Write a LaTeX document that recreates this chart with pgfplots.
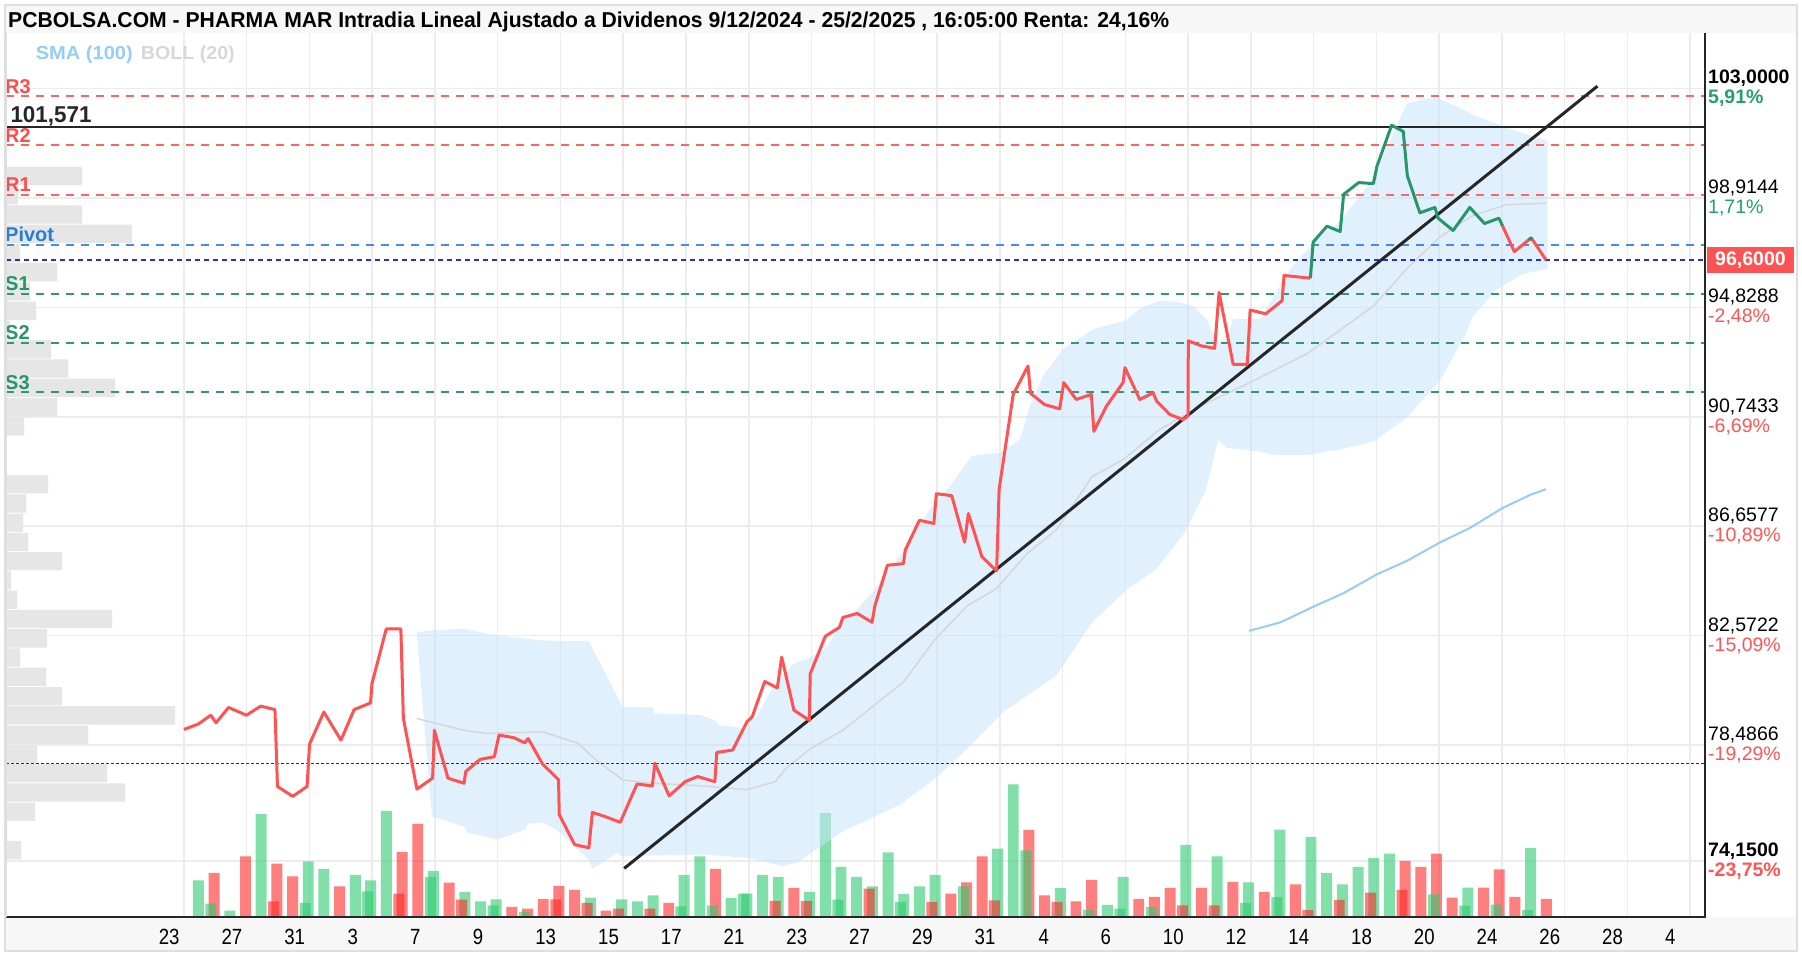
\documentclass[border=0pt]{standalone}
\usepackage{pgfplots}
\pgfplotsset{compat=1.18}
\usepackage{graphicx}
\usepackage{fontspec}
\setmainfont{Liberation Sans}
\definecolor{gridc}{RGB}{236,236,236}
\definecolor{pricered}{RGB}{255,82,82}
\definecolor{pricegreen}{RGB}{40,150,108}
\definecolor{volgreen}{RGB}{46,204,113}
\definecolor{volred}{RGB}{255,40,40}
\definecolor{bandfill}{RGB}{200,228,250}
\definecolor{midgray}{RGB}{215,215,215}
\definecolor{smablue}{RGB}{150,205,245}
\definecolor{rline}{RGB}{255,100,100}
\definecolor{sline}{RGB}{50,152,112}
\definecolor{pline}{RGB}{70,140,230}
\definecolor{curblue}{RGB}{40,40,240}
\definecolor{rlab}{RGB}{255,75,75}
\definecolor{slab}{RGB}{35,150,105}
\definecolor{plab}{RGB}{40,125,215}
\definecolor{pctgreen}{RGB}{35,160,110}
\definecolor{pctred}{RGB}{255,85,85}
\definecolor{profgray}{RGB}{230,230,230}
\definecolor{bandgray}{RGB}{247,247,247}
\definecolor{framegray}{RGB}{222,222,222}
\newcommand{\xl}[1]{\scalebox{0.845}[1]{#1}}
\begin{document}
\begin{tikzpicture}[x=1pt,y=1pt]
\useasboundingbox (0,0) rectangle (1802,957);
\fill[white] (0,0) rectangle (1802,957);
\fill[bandgray] (5,924) rectangle (1797,952);
\fill[bandgray] (5,6) rectangle (1797,40);
\draw[framegray, line width=1.5pt] (5,6) rectangle (1797,952);

% ---------- grid + tick labels ----------
\begin{axis}[
  at={(6pt,40pt)}, anchor=south west, scale only axis,
  width=1699pt, height=884pt,
  xmin=-5.673, xmax=48.478, ymin=72.066, ymax=105.075,
  axis line style={draw=none},
  xtick={-0.47,1.53,3.53,5.38,7.37,9.37,11.53,13.53,15.53,17.53,19.53,21.53,23.53,25.53,27.4,29.38,31.53,33.53,35.53,37.53,39.53,41.53,43.53,45.53,47.37},
  xticklabels={\xl{23},\xl{27},\xl{31},\xl{3},\xl{7},\xl{9},\xl{13},\xl{15},\xl{17},\xl{21},\xl{23},\xl{27},\xl{29},\xl{31},\xl{4},\xl{6},\xl{10},\xl{12},\xl{14},\xl{18},\xl{20},\xl{24},\xl{26},\xl{28},\xl{4}},
  minor xtick={0,2,...,48},
  xminorgrids=true, xmajorgrids=false, ymajorgrids=true,
  major grid style={draw=gridc, line width=1.5pt},
  minor grid style={draw=gridc, line width=1.5pt},
  major tick length=0pt, minor tick length=0pt,
  ytick={74.15,78.4866,82.5722,86.6577,90.7433,94.8288,98.9144,103},
  yticklabels={
    {\textbf{74,1500}\\\textcolor{pctred}{\textbf{-23,75\%}}},
    {78,4866\\\textcolor{pctred}{-19,29\%}},
    {82,5722\\\textcolor{pctred}{-15,09\%}},
    {86,6577\\\textcolor{pctred}{-10,89\%}},
    {90,7433\\\textcolor{pctred}{-6,69\%}},
    {94,8288\\\textcolor{pctred}{-2,48\%}},
    {98,9144\\\textcolor{pctgreen}{1,71\%}},
    {\textbf{103,0000}\\\textcolor{pctgreen}{\textbf{5,91\%}}}},
  yticklabel pos=right,
  xticklabel style={anchor=center, yshift=-20pt, inner sep=0pt, font=\fontsize{22}{22}\selectfont},
  yticklabel style={anchor=west, inner sep=0pt, xshift=3pt, align=left, font=\fontsize{19.5}{20}\selectfont},
  extra y ticks={96.6},
  extra y tick labels={{\textbf{96,6000}}},
  extra y tick style={grid=none, yticklabel style={fill=pricered, text=white, inner xsep=8pt, inner ysep=5pt, xshift=-1pt}},
]
\end{axis}

% ---------- volume profile ----------
\begin{axis}[
  at={(6pt,40pt)}, anchor=south west, scale only axis,
  width=1699pt, height=884pt,
  xmin=0, xmax=1699, ymin=72.066, ymax=105.075, hide axis,
]
\addplot[xbar, bar width=0.683, bar shift=0pt, fill=profgray, draw=none] coordinates {
(76,99.736) (12,99.015) (76,98.298) (126,97.578) (14,96.857) (51,96.140) (24,95.419) (30,94.699) (4,93.982) (45,93.261) (62,92.544) (109,91.823) (51,91.103) (18,90.386) (42,88.227) (20,87.507) (17,86.786) (22,86.069) (56,85.348) (5,84.628) (11,83.911) (106,83.190) (41,82.469) (14,81.752) (40,81.032) (56,80.311) (169,79.594) (82,78.873) (31,78.153) (101,77.436) (119,76.715) (29,75.994) (1,75.277) (15,74.557)};
\end{axis}

% ---------- volume bars ----------
\begin{axis}[
  at={(6pt,40pt)}, anchor=south west, scale only axis,
  width=1699pt, height=884pt,
  xmin=-5.673, xmax=48.478, ymin=0, ymax=884, hide axis,
]
\addplot[ybar, bar width=0.35, bar shift=0pt, fill=volgreen, fill opacity=0.6, draw=none] coordinates {
(0.46,36.7) (1.46,6.3) (2.46,103) (3.96,55.5) (4.46,48) (5.46,42) (5.95,36.7) (6.45,106) (7.95,46) (8.95,25) (9.45,15.7) (9.95,17.5) (12.95,19.3) (13.95,17.5) (14.45,15.7) (14.95,21.5) (15.94,42) (16.44,60.7) (17.44,19) (17.94,23.3) (18.44,42) (18.94,40) (19.94,25) (20.44,104) (20.94,50) (21.44,40) (21.94,30.7) (22.44,64.5) (22.94,23) (23.44,30.7) (23.94,42) (25.93,68.3) (26.43,132.5) (27.93,29) (29.43,12) (29.93,40) (31.93,72) (32.93,60.7) (33.93,34.7) (34.93,87.3) (35.92,80) (36.42,44) (36.92,32.7) (37.42,50) (37.92,59) (38.42,63.3) (40.92,29.3) (42.92,69)};
\addplot[ybar, bar width=0.35, bar shift=0pt, fill=volred, fill opacity=0.6, draw=none] coordinates {
(0.96,44) (1.96,60.7) (2.96,53.3) (3.46,40.5) (4.96,30.7) (6.95,65) (7.45,93) (8.45,34.3) (10.45,10) (10.95,8.3) (11.45,17.8) (11.95,31) (12.45,27) (13.45,6.3) (15.45,14) (16.94,48) (19.44,29) (24.44,23.3) (24.94,34.5) (25.44,60.7) (26.93,87) (27.43,21.7) (28.43,15.5) (28.93,37) (30.43,18) (30.93,20) (31.43,29) (32.43,29) (33.43,35) (34.43,25) (35.42,32.7) (38.92,56) (39.42,50) (39.92,63.3) (40.42,19.3) (41.42,29.3) (41.92,47.7) (42.42,20) (43.42,18)};
\addplot[ybar, bar width=0.35, bar shift=0pt, fill=volgreen, fill opacity=0.6, draw=none] coordinates {
(0.86,13.3) (3.86,14) (5.85,25.7) (7.85,40) (9.85,11.7) (10.85,5) (15.84,10.7) (16.84,11.7) (17.84,23.3) (20.84,17.3) (22.84,15) (24.84,30.7) (26.83,66.7) (28.83,7.3) (29.83,8.3) (30.83,10) (33.83,14) (34.83,19.8) (39.82,22.7) (40.82,11.3) (41.82,12.4) (42.82,6.8)};
\addplot[ybar, bar width=0.35, bar shift=0pt, fill=volred, fill opacity=0.6, draw=none] coordinates {
(2.86,15.7) (6.85,23.3) (8.85,17.3) (11.85,17.7) (12.85,14) (13.85,8.3) (14.85,8.3) (18.84,16) (19.84,16) (21.84,28.3) (23.84,15) (25.83,16.7) (27.83,15) (31.83,11.7) (32.83,11.7) (35.82,6.8) (36.82,17) (37.82,24.4) (38.82,27.2)};
\end{axis}

% ---------- price panel ----------
\begin{axis}[
  at={(6pt,40pt)}, anchor=south west, scale only axis,
  width=1699pt, height=884pt,
  xmin=-5.673, xmax=48.478, ymin=72.066, ymax=105.075, hide axis,
  clip mode=individual,
]
% Bollinger band
\addplot[fill=bandfill, fill opacity=0.55, draw=none] coordinates {
(7.42,82.70) (8.01,82.78) (8.92,82.82) (9.72,82.63) (10.52,82.51) (11.43,82.39) (12.90,82.36) (13.98,79.91) (14.95,79.89) (15.0,79.66) (15.97,79.64) (16.47,79.60) (16.92,79.41) (17.04,79.23) (17.94,79.11) (18.28,79.60) (18.74,80.59) (19.42,81.52) (19.98,81.77) (20.44,82.08) (21.0,83.07) (21.57,83.69) (22.02,84.31) (22.82,85.54) (23.84,87.40) (24.41,88.14) (25.09,89.26) (25.36,89.33) (26.0,89.39) (26.64,89.89) (26.96,91.14) (27.38,92.27) (28.02,93.27) (28.98,94.02) (29.99,94.33) (30.46,94.77) (31.10,95.08) (31.63,95.04) (32.16,94.89) (32.59,94.39) (32.91,93.52) (33.23,93.64) (33.44,94.39) (34.29,94.39) (35.27,96.27) (36.01,97.27) (36.85,98.06) (37.91,99.65) (38.97,102.43) (39.6,102.63) (40.0,102.63) (41.08,102.03) (42.14,101.54) (43.46,101.04)
(43.46,96.27) (42.67,96.08) (41.82,95.48) (41.08,94.49) (40.87,93.89) (40.03,92.10) (38.97,90.72) (37.91,89.82) (36.85,89.52) (35.80,89.32) (34.74,89.32) (34.29,89.45) (33.23,89.58) (32.96,89.89) (32.57,88.02) (31.89,86.41) (30.98,85.05) (30.07,84.31) (28.94,83.07) (27.81,81.09) (26.11,79.72) (24.97,78.36) (23.95,77.25) (22.82,76.26) (21.0,75.27) (19.53,74.09) (19.08,73.97) (17.94,74.28) (16.47,74.40) (13.93,74.34) (13.81,74.46) (13.02,73.87) (12.90,74.22) (11.88,75.33) (11.43,75.60) (10.97,75.55) (10.86,75.33) (10.0,74.96) (9.04,75.21) (8.92,75.45) (7.90,75.82)} -- cycle;
% middle band
\addplot[midgray, line width=1.5pt] coordinates {
(7.42,79.48) (8.92,79.04) (9.6,78.92) (11.43,78.98) (12.56,78.55) (13.13,77.93) (13.98,77.19) (14.84,77.06) (15.97,77.00) (16.75,76.94) (17.94,76.82) (18.85,77.12) (19.19,77.62) (19.98,78.36) (21.0,79.04) (22.14,80.10) (22.93,80.84) (23.95,82.45) (24.97,83.69) (25.88,84.31) (26.9,85.67) (27.81,86.53) (28.94,88.51) (29.93,89.14) (31.1,90.27) (32.5,91.2) (33.97,92.02) (35.80,93.10) (37.91,94.88) (38.97,96.27) (40.03,97.46) (41.08,98.26) (42.14,98.66) (43.41,98.72)};
% SMA 100
\addplot[smablue, line width=2pt] coordinates {
(33.95,82.75) (34.95,83.07) (36.01,83.66) (36.96,84.16) (38.02,84.86) (38.97,85.36) (40.03,86.05) (40.98,86.59) (42.03,87.34) (42.93,87.84) (43.41,88.04)};
% pivot levels
\addplot[rline, line width=1.8pt, dash pattern=on 8pt off 7pt] coordinates {(-5.673,102.72) (48.478,102.72)};
\addplot[rline, line width=1.8pt, dash pattern=on 8pt off 7pt] coordinates {(-5.673,100.88) (48.478,100.88)};
\addplot[rline, line width=1.8pt, dash pattern=on 8pt off 7pt] coordinates {(-5.673,99.03) (48.478,99.03)};
\addplot[pline, line width=1.8pt, dash pattern=on 8pt off 7pt] coordinates {(-5.673,97.17) (48.478,97.17)};
\addplot[sline, line width=1.8pt, dash pattern=on 8pt off 7pt] coordinates {(-5.673,95.34) (48.478,95.34)};
\addplot[sline, line width=1.8pt, dash pattern=on 8pt off 7pt] coordinates {(-5.673,93.50) (48.478,93.50)};
\addplot[sline, line width=1.8pt, dash pattern=on 8pt off 7pt] coordinates {(-5.673,91.66) (48.478,91.66)};
\addplot[curblue, line width=2pt, dash pattern=on 5pt off 4pt] coordinates {(-5.673,96.60) (48.478,96.60)};
\addplot[black!80, line width=1.8pt, dash pattern=on 3pt off 2pt] coordinates {(-5.673,77.80) (48.478,77.80)};
\addplot[black!85, line width=1.8pt] coordinates {(-5.673,101.571) (48.478,101.571)};
% trend line
\addplot[black!85, line width=3pt] coordinates {(14.03,73.88) (45.05,103.09)};
% price
\addplot[pricered, line width=3pt, line join=round] coordinates {
(0,79.07) (0.455,79.27) (0.853,79.60) (1.023,79.32) (1.421,79.89) (1.99,79.60) (2.444,79.94) (2.899,79.81) (2.979,76.94) (3.467,76.57) (3.922,76.94) (4.002,78.52) (4.457,79.72) (5.002,78.67) (5.423,79.81) (5.946,80.06) (5.991,80.78) (6.446,82.82) (6.912,82.82) (6.992,79.48) (7.424,76.84) (7.924,77.25) (7.981,79.04) (8.413,77.25) (8.925,77.06) (8.981,77.50) (9.436,77.95) (9.891,78.05) (10.04,78.86) (10.516,78.76) (10.857,78.57) (10.971,78.73) (11.426,77.78) (11.937,77.19) (11.96,75.89) (12.449,74.77) (12.904,74.65) (13.017,75.97) (13.415,75.82) (13.904,75.60) (14.438,77.03) (14.927,76.96) (15.007,77.81) (15.462,76.59) (15.973,77.12) (16.371,77.31) (16.92,77.12) (16.98,78.21) (17.49,78.30) (17.94,79.35) (18.11,79.54) (18.51,80.86) (18.91,80.62) (19.05,81.77) (19.44,79.79) (19.93,79.41) (19.96,81.15) (20.44,82.55) (20.89,82.88) (21.00,83.25) (21.46,83.40) (21.93,83.07) (22.02,83.69) (22.42,85.20) (22.93,85.26) (22.99,85.77) (23.44,86.88) (23.90,86.76) (23.98,87.87) (24.47,87.80) (24.88,86.06) (25.00,87.13) (25.43,85.52) (25.90,84.99) (25.98,88.04) (26.43,91.58) (26.90,92.64) (26.98,91.62) (27.43,91.20) (27.91,91.04) (28.04,92.02) (28.44,91.39) (28.92,91.58) (29.00,90.20) (29.40,91.14) (29.93,92.02) (29.99,92.58) (30.46,91.39) (30.89,91.64) (31.00,91.33) (31.42,90.83) (31.84,90.64) (32.00,90.77) (32.01,93.58) (32.43,93.39) (32.85,93.30) (32.99,95.39) (33.44,92.70) (33.89,92.70) (33.98,94.73) (34.48,94.59) (35.00,95.08) (35.06,96.02) (35.90,95.92)};
\addplot[pricegreen, line width=3pt, line join=round] coordinates {
(35.90,95.92) (35.99,97.27) (36.43,97.86) (36.85,97.66) (36.96,99.05) (37.44,99.49) (37.91,99.45) (38.02,100.09) (38.49,101.63) (38.86,101.40) (38.99,99.75) (39.39,98.36) (39.87,98.56) (39.97,98.16) (40.45,97.70) (40.98,98.56) (41.45,97.96) (41.91,98.16) (42.03,97.86)};
\addplot[pricered, line width=3pt, line join=round] coordinates {
(42.03,97.86) (42.40,96.91) (42.93,97.42) (43.03,97.27) (43.41,96.60)};
\addplot[pricegreen, line width=3pt, line join=round] coordinates {
(42.85,97.35) (42.93,97.42) (42.98,97.37)};
% labels
\node[anchor=base west, inner sep=0pt, text=rlab, font=\bfseries\fontsize{20}{20}\selectfont, xshift=-1pt, yshift=3pt] at (axis cs:-5.673,102.72) {R3};
\node[anchor=base west, inner sep=0pt, text=rlab, font=\bfseries\fontsize{20}{20}\selectfont, xshift=-1pt, yshift=3pt] at (axis cs:-5.673,100.88) {R2};
\node[anchor=base west, inner sep=0pt, text=rlab, font=\bfseries\fontsize{20}{20}\selectfont, xshift=-1pt, yshift=3pt] at (axis cs:-5.673,99.03) {R1};
\node[anchor=base west, inner sep=0pt, text=plab, font=\bfseries\fontsize{20}{20}\selectfont, xshift=-1pt, yshift=3pt] at (axis cs:-5.673,97.17) {Pivot};
\node[anchor=base west, inner sep=0pt, text=slab, font=\bfseries\fontsize{20}{20}\selectfont, xshift=-1pt, yshift=3pt] at (axis cs:-5.673,95.34) {S1};
\node[anchor=base west, inner sep=0pt, text=slab, font=\bfseries\fontsize{20}{20}\selectfont, xshift=-1pt, yshift=3pt] at (axis cs:-5.673,93.50) {S2};
\node[anchor=base west, inner sep=0pt, text=slab, font=\bfseries\fontsize{20}{20}\selectfont, xshift=-1pt, yshift=3pt] at (axis cs:-5.673,91.66) {S3};
\node[anchor=base west, inner sep=0pt, text=black!85, xshift=4.3pt, yshift=4pt] at (axis cs:-5.673,101.571) {\resizebox{81pt}{16pt}{\bfseries 101,571}};
\end{axis}

% frame lines
\draw[black!85, line width=2.5pt] (6,40) -- (1706,40);
\draw[black!85, line width=2pt] (1705,40) -- (1705,924);
\draw[framegray, line width=1.5pt] (6,40) -- (6,924);

% title and legend
\node[anchor=base west, inner sep=0pt] at (8,929.9) {\resizebox{1161pt}{15.6pt}{\bfseries PCBOLSA.COM - PHARMA MAR Intradia Lineal Ajustado a Dividenos 9/12/2024 - 25/2/2025 , 16:05:00 Renta: 24,16\%}};
\node[anchor=base west, inner sep=0pt, text=smablue] at (35.6,897.7) {\resizebox{97pt}{13.6pt}{\bfseries SMA (100)}};
\node[anchor=base west, inner sep=0pt, text=midgray] at (140.6,897.7) {\resizebox{94pt}{13.6pt}{\bfseries BOLL (20)}};
\end{tikzpicture}
\end{document}
